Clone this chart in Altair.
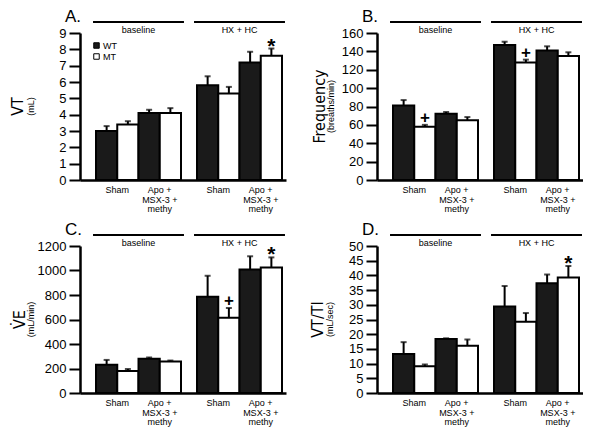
import altair as alt
import pandas as pd

groups = ["baseline", "HX + HC"]
treatments = ["Sham", "Apo + MSX-3 + methy"]
treatment_labels = ["Sham", "Apo +\nMSX-3 +\nmethy"]
genotypes = ["WT", "MT"]

# order: group -> treatment -> genotype (WT, MT)
vt_mean = [3.0, 3.4, 4.1, 4.1, 5.8, 5.3, 7.2, 7.6]
vt_sem = [0.3, 0.2, 0.2, 0.3, 0.55, 0.4, 0.65, 0.45]
vt_mark = ["", "", "", "", "", "", "", "*"]

freq_mean = [81, 58, 72, 65, 147, 128, 141, 135]
freq_sem = [6, 2, 2, 3.5, 3.5, 3, 4.5, 4]
freq_mark = ["", "+", "", "", "", "+", "", ""]

ve_mean = [230, 180, 280, 258, 785, 614, 1008, 1025]
ve_sem = [40, 16, 10, 7, 172, 80, 108, 82]
ve_mark = ["", "", "", "", "", "+", "", "*"]

vtti_mean = [13.3, 9.1, 18.4, 16.1, 29.4, 24.2, 37.3, 39.3]
vtti_sem = [4, 0.6, 0.2, 2.1, 7, 3, 3, 3.9]
vtti_mark = ["", "", "", "", "", "", "", "*"]

FONT = "Liberation Sans, Arial, Helvetica, sans-serif"
NARROW = "'Liberation Sans Narrow', 'Arial Narrow', 'DejaVu Sans Condensed', 'Liberation Sans', sans-serif"
W, H = 206, 147
BAR_W = 85 / 4

sub_domain = [f"{t} {g}" for t in treatments for g in genotypes]


def make_df(mean, sem, marks):
    rows = []
    k = 0
    for gr in groups:
        for t in treatments:
            for g in genotypes:
                rows.append({"group": gr, "treat": t, "geno": g, "sub": f"{t} {g}",
                             "mean": mean[k], "upper": mean[k] + sem[k], "mark": marks[k]})
                k += 1
    return pd.DataFrame(rows)


def panel(letter, ytitle, yunit, mean, sem, marks, ymax, ystep, title_x, unit_x, legend=False):
    df = make_df(mean, sem, marks)
    x = alt.X("group:N",
              scale=alt.Scale(domain=groups, paddingInner=16 / 101, paddingOuter=10 / 101, align=0.8),
              axis=alt.Axis(labels=False, ticks=False, title=None, domainWidth=2.5, domainColor="black"))
    xo = alt.XOffset("sub:N", scale=alt.Scale(domain=sub_domain, paddingInner=0, paddingOuter=0))
    ticks = list(range(0, ymax + ystep, ystep))
    yscale = alt.Scale(domain=[0, ymax], nice=False, zero=True)
    yaxis = alt.Axis(values=ticks, title=None, format="d", tickSize=11, tickWidth=2,
                     domainWidth=2.5, labelPadding=3, labelFontSize=13, labelOverlap=False,
                     labelFlush=False, tickCount=len(ticks))

    def yf(field):
        return alt.Y(f"{field}:Q", scale=yscale, axis=yaxis)

    if legend:
        leg = alt.Legend(title=None, orient="none", legendX=12, legendY=8, direction="vertical",
                         symbolType="square", symbolSize=30, symbolStrokeColor="black",
                         symbolStrokeWidth=1, labelFontSize=9, labelOffset=2, rowPadding=0,
                         padding=0, labelFont=FONT, labelColor="black")
    else:
        leg = None
    base = alt.Chart(df)
    bars = base.mark_bar(stroke="black", strokeWidth=2).encode(
        x=x, xOffset=xo, y=yf("mean"),
        fill=alt.Fill("geno:N", scale=alt.Scale(domain=genotypes, range=["#1a1a1a", "#ffffff"]), legend=leg))
    err = base.mark_rule(color="black", strokeWidth=2).encode(
        x=x, xOffset=xo, y=yf("mean"), y2="upper:Q")
    cap = base.mark_tick(color="black", thickness=2, size=6).encode(x=x, xOffset=xo, y=yf("upper"))
    star = base.transform_filter(alt.datum.mark == "*").mark_text(
        fontSize=21, fontWeight="bold", baseline="middle", dy=-2, color="black").encode(
        x=x, xOffset=xo, y=yf("upper"), text="mark:N")
    plus = base.transform_filter(alt.datum.mark == "+").mark_text(
        fontSize=17, fontWeight="bold", baseline="middle", dy=-7, color="black").encode(
        x=x, xOffset=xo, y=yf("upper"), text="mark:N")

    gdf = pd.DataFrame({"group": groups})
    gline = alt.Chart(gdf).mark_bar(color="black", width=alt.RelativeBandSize(1.07)).encode(
        x=x, y=alt.value(-12), y2=alt.value(-10))
    glabel = alt.Chart(gdf).mark_text(fontSize=9, baseline="middle", color="black").encode(
        x=x, y=alt.value(-3.5), text="group:N")

    tdf = pd.DataFrame([{"group": gr, "sub": f"{t} MT", "label": lab}
                        for gr in groups for t, lab in zip(treatments, treatment_labels)])
    tlabel = alt.Chart(tdf).mark_text(fontSize=9, baseline="top", lineBreak="\n", lineHeight=9.5,
                                      dx=-BAR_W / 2, color="black").encode(
        x=x, xOffset=xo, y=alt.value(H + 6), text="label:N")

    ytl = alt.Chart(pd.DataFrame({"t": [ytitle]})).mark_text(
        angle=270, font=NARROW, fontSize=16, baseline="middle", color="black").encode(
        x=alt.value(title_x), y=alt.value(H / 2), text="t:N")
    yul = alt.Chart(pd.DataFrame({"t": [yunit]})).mark_text(
        angle=270, fontSize=9, baseline="middle", color="black").encode(
        x=alt.value(unit_x), y=alt.value(H / 2), text="t:N")
    let = alt.Chart(pd.DataFrame({"t": [letter]})).mark_text(
        fontSize=17, align="left", baseline="middle", color="black").encode(
        x=alt.value(-15), y=alt.value(-16), text="t:N")

    return alt.layer(bars, err, cap, star, plus, gline, glabel, tlabel, ytl, yul, let).properties(
        width=W, height=H)


pa = panel("A.", "VT", "(mL)", vt_mean, vt_sem, vt_mark, 9, 1, -62, -49, legend=True)
pb = panel("B.", "Frequency", "(breaths/min)", freq_mean, freq_sem, freq_mark, 160, 20, -57, -46.5)
pc = panel("C.", "V\u0307E", "(mL/min)", ve_mean, ve_sem, ve_mark, 1200, 200, -60, -49.5)
pd_ = panel("D.", "VT/TI", "(mL/sec)", vtti_mean, vtti_sem, vtti_mark, 50, 5, -59, -47)

chart = alt.concat(
    pa, pb, pc, pd_, columns=2, spacing={"row": 66, "column": 91}, bounds="flush",
    padding={"left": 2, "top": 0, "right": 0, "bottom": 0},
).resolve_scale(fill="independent").configure(font=FONT).configure_view(stroke=None).configure_axis(
    labelColor="black", domainColor="black", tickColor="black", grid=False, labelFont=FONT)

chart.save("out.html", embed_options={"renderer": "svg", "actions": False})
